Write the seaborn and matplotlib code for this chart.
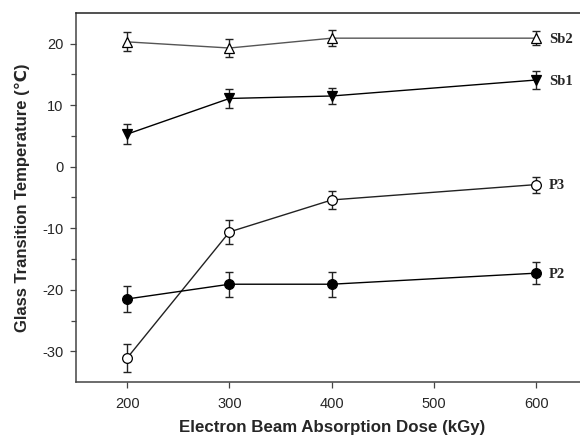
import numpy as np
import pandas as pd
import seaborn as sns
import matplotlib
matplotlib.use("Agg")
import matplotlib.pyplot as plt
from matplotlib.ticker import MultipleLocator, FixedLocator

dose = [200, 300, 400, 600]
series_names = ["Sb2", "Sb1", "P3", "P2"]
sb2 = [20.3, 19.3, 20.9, 20.9]
sb2_err = [1.55, 1.5, 1.3, 1.1]
sb1 = [5.3, 11.1, 11.5, 14.1]
sb1_err = [1.6, 1.5, 1.3, 1.4]
p3 = [-31.1, -10.6, -5.4, -2.9]
p3_err = [2.2, 1.9, 1.45, 1.3]
p2 = [-21.5, -19.1, -19.1, -17.3]
p2_err = [2.1, 2.0, 2.0, 1.8]

sns.set_style("ticks")
plt.rcParams['font.family'] = ['Liberation Sans', 'DejaVu Sans']
plt.rcParams['axes.unicode_minus'] = False

fig = plt.figure(figsize=(5.8, 4.42), dpi=100)
ax = fig.add_axes([0.131, 0.1357, 0.882, 0.835])

styles = {
    "Sb2": dict(marker="^", mfc="white", color="#555555"),
    "Sb1": dict(marker="v", mfc="black", color="black"),
    "P3": dict(marker="o", mfc="white", color="#222222"),
    "P2": dict(marker="o", mfc="black", color="black"),
}
vals = {"Sb2": (sb2, sb2_err), "Sb1": (sb1, sb1_err), "P3": (p3, p3_err), "P2": (p2, p2_err)}

for name in series_names:
    y, e = vals[name]
    st = styles[name]
    df = pd.DataFrame({"dose": dose, "tg": y})
    ax.errorbar(dose, y, yerr=e, fmt="none", ecolor="#222222", elinewidth=1.0,
                capsize=3, capthick=1.0, zorder=2)
    sns.lineplot(data=df, x="dose", y="tg", ax=ax, color=st["color"], lw=1.0,
                 marker=st["marker"], markersize=7, markerfacecolor=st["mfc"],
                 markeredgecolor="black", markeredgewidth=0.9, zorder=3)
    ax.annotate(name, xy=(dose[-1], y[-1]), xytext=(9, -1), textcoords="offset points",
                va="center", ha="left", fontsize=10.5, fontweight="bold",
                family=["Liberation Serif", "DejaVu Serif"])

ax.set_xlim(150, 650)
ax.set_ylim(-35, 25)
ax.set_xticks([200, 300, 400, 500, 600])
ax.yaxis.set_major_locator(MultipleLocator(10))
ax.yaxis.set_minor_locator(FixedLocator([15, 5, -5, -15, -25]))
ax.tick_params(axis="both", which="major", length=4, width=0.9, labelsize=10.5, color="#444444")
ax.tick_params(axis="x", which="major", pad=7)
ax.tick_params(axis="y", which="major", pad=5)
ax.tick_params(axis="y", which="minor", length=3.5, width=0.9, color="#444444")
for s in ax.spines.values():
    s.set_linewidth(1.1)
    s.set_color("#444444")
ax.spines["top"].set_color("#222222")

ax.set_xlabel("Electron Beam Absorption Dose (kGy)", fontsize=12.2, fontweight="bold", labelpad=6)
ax.set_ylabel("Glass Transition Temperature (\u2103)", fontsize=12, fontweight="bold", labelpad=9,
              family=["Liberation Sans", "DejaVu Sans"])

fig.savefig("out.png", dpi=100)
